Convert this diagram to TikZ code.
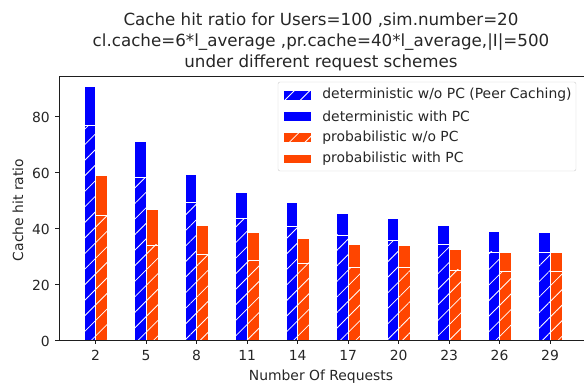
\documentclass[tikz,border=0pt]{standalone}
\usepackage{fontspec}
\setmainfont{DejaVu Sans}
\usetikzlibrary{patterns.meta, positioning}

\definecolor{detblue}{RGB}{0,0,255}
\definecolor{probred}{RGB}{255,69,0}
\definecolor{axisgray}{RGB}{30,30,30}

\begin{document}
\begin{tikzpicture}[x=1pt, y=1pt, font=\fontsize{13.9}{16}\selectfont,
		bar/.style={draw=white, line width=0.6pt},
		hatched/.style={bar, preaction={fill=#1},
			pattern={Lines[angle=45, distance=11pt, line width=0.8pt]}, pattern color=white},
		solid/.style={bar, fill=#1},
		handle/.style={minimum width=27.8pt, minimum height=9.7pt, inner sep=0pt},
		legtext/.style={right=11pt of #1, inner sep=0pt, text=black!85},
		ticklab/.style={inner sep=0pt, text=black!85},
		spine/.style={axisgray, line width=1pt}]
	\useasboundingbox (0,0) rectangle (584,385);
	
	% bars, in data units
	\begin{scope}[shift={(62,44)}, x=16.83pt, y=2.8pt]
		\foreach \n/\dw/\dn/\pw/\pn in {2/91.1/76.9/59.2/45.0, 5/71.2/58.5/47.0/34.3,
				8/59.6/49.4/41.2/30.8, 11/53.1/43.8/38.7/28.8, 14/49.6/40.8/36.7/27.9,
				17/45.6/37.9/34.6/26.3, 20/43.7/35.8/34.2/26.3, 23/41.2/34.4/32.6/25.4,
				26/39.2/31.8/31.8/24.9, 29/38.7/31.8/31.8/24.9} {
			\path[solid=detblue] (\n-0.7,0) rectangle (\n,\dw);
			\path[hatched=detblue] (\n-0.7,0) rectangle (\n,\dn);
			\path[solid=probred] (\n,0) rectangle (\n+0.7,\pw);
			\path[hatched=probred] (\n,0) rectangle (\n+0.7,\pn);
			\draw[spine] (\n,0) -- ([yshift=-3.5pt]\n,0);
			\node[ticklab, anchor=north] (xt\n) at ([yshift=-9pt]\n,0) {\n};
		}
		\foreach \v in {0,20,...,80} {
			\draw[spine] (-0.18,\v) -- ([xshift=-3.5pt]-0.18,\v);
			\node[ticklab, anchor=east] (yt\v) at ([xshift=-9pt]-0.18,\v) {\v};
		}
	\end{scope}
	
	% axes frame
	\draw[spine] (586,308) -- (59,308) -- (59,44) -- (586,44);
	
	% labels
	\node[ticklab] (xlabel) at (321,8) {Number Of Requests};
	\node[ticklab, rotate=90] (ylabel) at (18,175) {Cache hit ratio};
	\node[ticklab, align=center, font=\fontsize{16.7}{21}\selectfont] (title) at (321,343)
		{Cache hit ratio for Users=100 ,sim.number=20\\
		cl.cache=6*l\_average ,pr.cache=40*l\_average,|I|=500\\
		under different request schemes};
	
	% legend
	\draw[black!20, rounded corners=2pt, fill=white, fill opacity=0.8] (278,214) rectangle (576,303);
	\node[handle, hatched=detblue] (h1) at (297,290) {};
	\node[handle, solid=detblue] (h2) [below=11pt of h1] {};
	\node[handle, hatched=probred] (h3) [below=11pt of h2] {};
	\node[handle, solid=probred] (h4) [below=11pt of h3] {};
	\node[legtext=h1] (t1) {deterministic w/o PC (Peer Caching)};
	\node[legtext=h2] (t2) {deterministic with PC};
	\node[legtext=h3] (t3) {probabilistic w/o PC};
	\node[legtext=h4] (t4) {probabilistic with PC};
\end{tikzpicture}
\end{document}
